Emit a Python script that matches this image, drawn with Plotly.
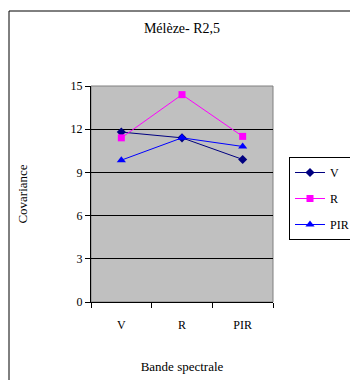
import plotly.graph_objects as go

categories = ["V", "R", "PIR"]
series_V = [11.8, 11.4, 9.9]
series_R = [11.4, 14.4, 11.5]
series_PIR = [9.85, 11.4, 10.8]
y_ticks = [0, 3, 6, 9, 12, 15]

FONT = "Times New Roman, Liberation Serif, DejaVu Serif, serif"

W, H = 350, 380
L, T = 91, 86
PW, PH = 182, 216

fig = go.Figure()
fig.add_trace(go.Scatter(x=categories, y=series_V, name="V", mode="lines+markers",
                         legendgroup="g1",
                         line=dict(color="#000080", width=1),
                         marker=dict(symbol="diamond", size=7, color="#000080")))
fig.add_trace(go.Scatter(x=categories, y=series_R, name="R", mode="lines+markers",
                         legendgroup="g2",
                         line=dict(color="#FF00FF", width=1),
                         marker=dict(symbol="square", size=7, color="#FF00FF")))
fig.add_trace(go.Scatter(x=categories, y=series_PIR, name="PIR", mode="lines+markers",
                         legendgroup="g3",
                         line=dict(color="#0000FF", width=1),
                         marker=dict(symbol="triangle-up", size=8, color="#0000FF")))

fig.update_layout(
    width=W, height=H,
    margin=dict(l=L, r=W - L - PW, t=T, b=H - T - PH, autoexpand=False),
    paper_bgcolor="white",
    plot_bgcolor="#C0C0C0",
    font=dict(family=FONT, size=12, color="black"),
    title=dict(text="Mélèze- R2,5", x=182 / W, xanchor="center", yref="container",
               y=1 - 28 / H, yanchor="middle",
               font=dict(family=FONT, size=14, color="black")),
    showlegend=True,
    legend=dict(x=(289 - L) / PW, y=(302 - 157) / PH, xanchor="left", yanchor="top",
                bordercolor="black", borderwidth=1, bgcolor="white",
                font=dict(family=FONT, size=12), tracegroupgap=7,
                itemwidth=30),
    xaxis=dict(type="category", range=[-0.5, 2.5], tickson="boundaries",
               ticks="outside", ticklen=5, tickcolor="black",
               ticklabelstandoff=12,
               showline=True, linecolor="black", linewidth=1, mirror=False,
               showgrid=False, zeroline=False,
               title=dict(text="Bande spectrale", standoff=30,
                          font=dict(family=FONT, size=13))),
    yaxis=dict(range=[0, 15], tickvals=y_ticks, ticks="outside", ticklen=5,
               tickcolor="black", showline=True, linecolor="black", linewidth=1,
               showgrid=True, gridcolor="black", gridwidth=1, zeroline=False,
               title=dict(text="Covariance", standoff=40,
                          font=dict(family=FONT, size=13))),
    shapes=[
        dict(type="rect", xref="paper", yref="paper", x0=0, x1=1, y0=0, y1=1,
             line=dict(color="#808080", width=1), layer="below"),
        dict(type="rect", xref="paper", yref="paper",
             x0=(9 - L) / PW, x1=(370 - L) / PW,
             y0=(302 - 400) / PH, y1=(302 - 11) / PH,
             line=dict(color="black", width=1), layer="below"),
    ],
)

fig.write_html("out.html",
               config={"displayModeBar": False},
               post_script="document.body.style.margin='0';document.body.style.overflow='hidden';")
